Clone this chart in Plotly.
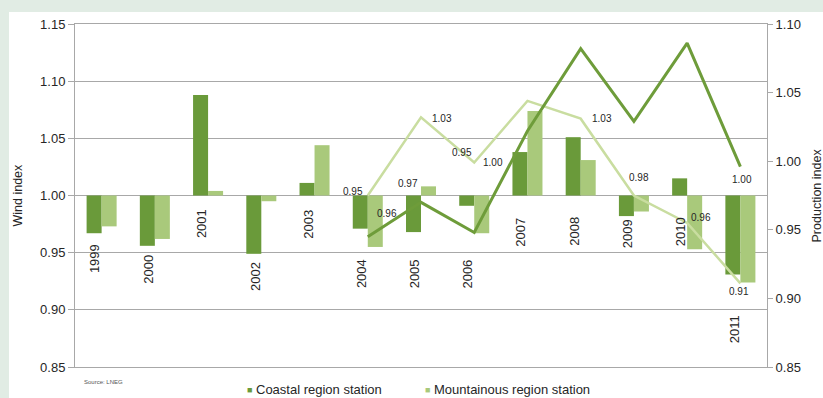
import plotly.graph_objects as go

# ---------------- data ----------------
years = list(range(1999, 2012))
coastal_wind = [0.967, 0.956, 1.088, 0.949, 1.011, 0.971, 0.968, 0.991, 1.038, 1.051, 0.982, 1.015, 0.931]
mountain_wind = [0.973, 0.962, 1.004, 0.995, 1.044, 0.955, 1.008, 0.967, 1.074, 1.031, 0.986, 0.953, 0.924]

line_years = list(range(2004, 2012))
coastal_prod = [0.945, 0.970, 0.948, 1.022, 1.082, 1.029, 1.086, 0.996]
mountain_prod = [0.975, 1.032, 0.999, 1.044, 1.031, 0.975, 0.955, 0.911]

# category labels: wind-index level where each year label starts (as printed)
year_label_top = [0.959, 0.950, 0.990, 0.944, 0.989, 0.946, 0.946, 0.946, 0.982, 0.983, 0.981, 0.983, 0.897]

# data labels as printed in the original (text, year position, production-index value)
label_text = ["0.95", "0.96", "0.97", "1.03", "0.95", "1.00", "1.03", "0.98", "0.96", "1.00", "0.91"]
label_x = [2003.72, 2004.36, 2004.76, 2005.39, 2005.77, 2006.35, 2008.40, 2009.10, 2010.26, 2011.03, 2010.97]
label_y = [0.978, 0.962, 0.984, 1.031, 1.006, 0.999, 1.031, 0.988, 0.959, 0.987, 0.905]

left_ticks = [0.85, 0.90, 0.95, 1.00, 1.05, 1.10, 1.15]
right_ticks = [0.85, 0.90, 0.95, 1.00, 1.05, 1.10]

series_names = ["Coastal region station", "Mountainous region station"]

# ---------------- style ----------------
DARK = "#6a9a3a"
LIGHT = "#a9c97b"
DARK_LINE = "#6e9c3a"
LIGHT_LINE = "#c9dda0"
GRID = "#a8a8a8"
TXT = "#262626"
FONT = "Liberation Sans, Arial, sans-serif"
BASE = 1.0

fig = go.Figure()

fig.add_trace(go.Bar(
    x=years, y=[v - BASE for v in coastal_wind], base=BASE,
    marker=dict(color=DARK, line=dict(width=0)), name=series_names[0],
    showlegend=False, yaxis="y"))
fig.add_trace(go.Bar(
    x=years, y=[v - BASE for v in mountain_wind], base=BASE,
    marker=dict(color=LIGHT, line=dict(width=0)), name=series_names[1],
    showlegend=False, yaxis="y"))

fig.add_trace(go.Scatter(
    x=line_years, y=mountain_prod, mode="lines", yaxis="y2",
    line=dict(color=LIGHT_LINE, width=2.5), showlegend=False, hoverinfo="skip"))
fig.add_trace(go.Scatter(
    x=line_years, y=coastal_prod, mode="lines", yaxis="y2",
    line=dict(color=DARK_LINE, width=3), showlegend=False, hoverinfo="skip"))

annotations = []
# year labels below the bars
for yr, top in zip(years, year_label_top):
    annotations.append(dict(
        x=yr - 0.12, y=top, xref="x", yref="y",
        text=str(yr), textangle=-90, showarrow=False,
        xanchor="center", yanchor="top",
        font=dict(family=FONT, size=13, color=TXT)))
# production data labels
for t, lx, ly in zip(label_text, label_x, label_y):
    annotations.append(dict(
        x=lx, y=ly, xref="x", yref="y2", text=t, showarrow=False,
        xanchor="center", yanchor="middle",
        font=dict(family=FONT, size=10, color=TXT)))
# axis titles
annotations.append(dict(x=-0.0838, y=0.5, xref="paper", yref="paper", text="Wind index",
                        textangle=-90, showarrow=False, xanchor="center", yanchor="middle",
                        font=dict(family=FONT, size=12.5, color=TXT)))
annotations.append(dict(x=1.0722, y=0.5, xref="paper", yref="paper", text="Production index",
                        textangle=-90, showarrow=False, xanchor="center", yanchor="middle",
                        font=dict(family=FONT, size=12.5, color=TXT)))
# source
annotations.append(dict(x=0.01, y=-0.044, xref="paper", yref="paper", text="Source: LNEG",
                        showarrow=False, xanchor="left", yanchor="middle",
                        font=dict(family=FONT, size=6, color="#555555")))
# legend
for name, col, px in zip(series_names, [DARK, LIGHT], [0.2515, 0.5087]):
    annotations.append(dict(x=px, y=-0.067, xref="paper", yref="paper", text="■",
                            showarrow=False, xanchor="center", yanchor="middle",
                            font=dict(family=FONT, size=9, color=col)))
    annotations.append(dict(x=px + 0.0075, y=-0.067, xref="paper", yref="paper", text=name,
                            showarrow=False, xanchor="left", yanchor="middle",
                            font=dict(family=FONT, size=13, color=TXT)))

fig.update_layout(
    width=823, height=398,
    margin=dict(l=75, r=56, t=24, b=31),
    paper_bgcolor="#e1ece4",
    plot_bgcolor="white",
    barmode="group", bargap=0.436, bargroupgap=0,
    showlegend=False,
    font=dict(family=FONT, size=13, color=TXT),
    xaxis=dict(range=[1998.5, 2011.5], showticklabels=False, showgrid=False,
               zeroline=False, showline=True, linecolor=GRID, linewidth=1, mirror=True,
               ticks=""),
    yaxis=dict(range=[0.85, 1.15], tickvals=left_ticks, tickformat=".2f",
               showgrid=True, gridcolor=GRID, gridwidth=1, zeroline=False,
               showline=True, linecolor=GRID, linewidth=1, mirror=True,
               ticks="outside", ticklen=6, tickcolor=GRID,
               tickfont=dict(family=FONT, size=13, color=TXT)),
    yaxis2=dict(range=[0.85, 1.10], tickvals=right_ticks, tickformat=".2f",
                overlaying="y", side="right", showgrid=False, zeroline=False,
                showline=False, ticks="outside", ticklen=5, tickcolor=GRID,
                tickfont=dict(family=FONT, size=13, color=TXT)),
    annotations=annotations,
    shapes=[dict(type="rect", xref="paper", yref="paper",
                 x0=-0.0954, x1=1.2, y0=-0.2, y1=1.035,
                 fillcolor="white", line=dict(width=0), layer="below")],
)

fig.write_html("out.html")
